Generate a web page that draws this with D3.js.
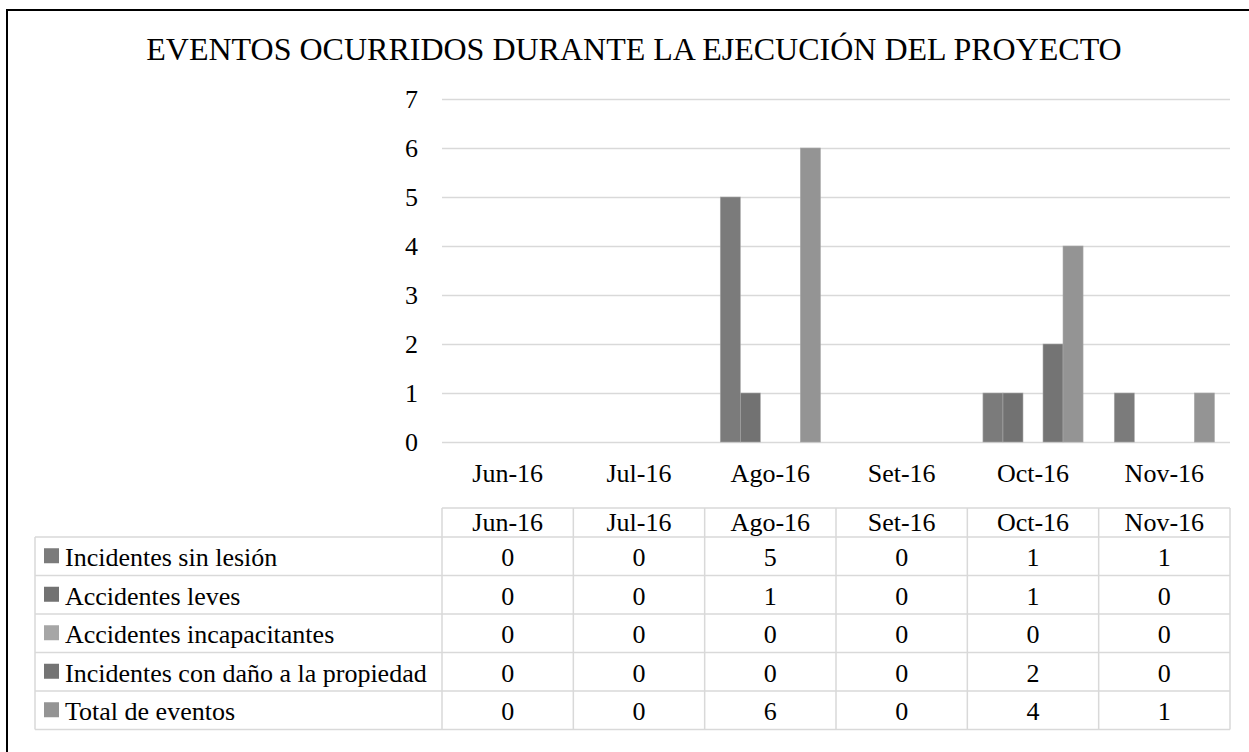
<!DOCTYPE html>
<html>
<head>
<meta charset="utf-8">
<script src="https://cdn.jsdelivr.net/npm/d3@7"></script>
<style>
  html, body { margin: 0; padding: 0; background: #fff; }
  svg { display: block; }
  text { font-family: "Liberation Serif", "Times New Roman", serif; fill: #000; }
</style>
</head>
<body>
<script>
// Chart data
const title = "EVENTOS OCURRIDOS DURANTE LA EJECUCIÓN DEL PROYECTO";
const months = ["Jun-16", "Jul-16", "Ago-16", "Set-16", "Oct-16", "Nov-16"];
const seriesNames = [
  "Incidentes sin lesión",
  "Accidentes leves",
  "Accidentes incapacitantes",
  "Incidentes con daño a la propiedad",
  "Total de eventos"
];
const incidentesSinLesion = [0, 0, 5, 0, 1, 1];
const accidentesLeves = [0, 0, 1, 0, 1, 0];
const accidentesIncapacitantes = [0, 0, 0, 0, 0, 0];
const incidentesDanoPropiedad = [0, 0, 0, 0, 2, 0];
const totalEventos = [0, 0, 6, 0, 4, 1];
const yTicks = [0, 1, 2, 3, 4, 5, 6, 7];
const seriesColors = ["#7b7b7b", "#727272", "#a6a6a6", "#747474", "#949494"];

const seriesValues = [incidentesSinLesion, accidentesLeves, accidentesIncapacitantes, incidentesDanoPropiedad, totalEventos];

const W = 1249, H = 752;
const FS = "26px";
const svg = d3.select("body").append("svg").attr("width", W).attr("height", H);

// frame (left/top edges of the outer border)
svg.append("rect").attr("x", 7).attr("y", 10).attr("width", W + 20).attr("height", H + 20)
  .attr("fill", "#fff").attr("stroke", "#000").attr("stroke-width", 2);

svg.append("text").attr("x", 634).attr("y", 60).attr("text-anchor", "middle")
  .style("font-size", "32px").text(title);

const plotLeft = 442, plotRight = 1230, plotTop = 99, plotBottom = 442;

const x = d3.scaleBand().domain(months).range([plotLeft, plotRight]).paddingInner(0).paddingOuter(0);
const y = d3.scaleLinear().domain([0, 7]).range([plotBottom, plotTop]);
const xs = d3.scaleBand().domain(d3.range(seriesNames.length)).range([0, x.bandwidth()]).paddingOuter(0.78).paddingInner(0);

// gridlines and value axis
const yAxis = d3.axisLeft(y).tickValues(yTicks).tickSize(-(plotRight - plotLeft)).tickPadding(24).tickFormat(d3.format("d"));
const gy = svg.append("g").attr("transform", `translate(${plotLeft},0)`).call(yAxis);
gy.select(".domain").remove();
gy.selectAll(".tick line").attr("stroke", "#d9d9d9").attr("stroke-width", 1.3);
gy.selectAll(".tick text").style("font-size", FS).style("font-family", "Liberation Serif, serif")
  .attr("fill", "#000").attr("dy", "0.34em");

// bars
const groups = svg.append("g").selectAll("g").data(months).join("g")
  .attr("transform", d => `translate(${x(d)},0)`);
groups.selectAll("rect")
  .data((m, i) => seriesValues.map((vals, s) => ({ s, v: vals[i] })).filter(d => d.v > 0))
  .join("rect")
  .attr("x", d => xs(d.s))
  .attr("width", xs.bandwidth())
  .attr("y", d => y(d.v))
  .attr("height", d => y(0) - y(d.v))
  .attr("fill", d => seriesColors[d.s])
  .attr("stroke", "#a8a8a8")
  .attr("stroke-width", 0.6);

// category axis labels
const xAxis = d3.axisBottom(x).tickSize(0).tickPadding(0);
const gx = svg.append("g").attr("transform", `translate(0,${plotBottom})`).call(xAxis);
gx.select(".domain").remove();
gx.selectAll(".tick text").style("font-size", FS).style("font-family", "Liberation Serif, serif")
  .attr("fill", "#000").attr("dy", null).attr("y", 40);

// data table
const tableTop = 508, headerH = 29, rowH = 38.5, tableLeft = 35;
const grid = svg.append("g").attr("stroke", "#d9d9d9").attr("stroke-width", 1.5).attr("fill", "none");
const tableBottom = tableTop + headerH + rowH * seriesNames.length;
grid.append("line").attr("x1", plotLeft).attr("x2", plotRight).attr("y1", tableTop).attr("y2", tableTop);
d3.range(seriesNames.length + 1).forEach(r => {
  const yy = tableTop + headerH + r * rowH;
  grid.append("line").attr("x1", tableLeft).attr("x2", plotRight).attr("y1", yy).attr("y2", yy);
});
months.forEach(m => {
  grid.append("line").attr("x1", x(m)).attr("x2", x(m)).attr("y1", tableTop).attr("y2", tableBottom);
});
grid.append("line").attr("x1", plotRight).attr("x2", plotRight).attr("y1", tableTop).attr("y2", tableBottom);
grid.append("line").attr("x1", tableLeft).attr("x2", tableLeft).attr("y1", tableTop + headerH).attr("y2", tableBottom);

// header labels
svg.append("g").selectAll("text").data(months).join("text")
  .attr("x", d => x(d) + x.bandwidth() / 2)
  .attr("y", tableTop + 23)
  .attr("text-anchor", "middle").style("font-size", FS).text(d => d);

// rows: legend key, series name, values
seriesNames.forEach((name, s) => {
  const cy = tableTop + headerH + s * rowH + rowH / 2;
  svg.append("rect").attr("x", 44).attr("y", cy - 8).attr("width", 15).attr("height", 15).attr("fill", seriesColors[s]);
  svg.append("text").attr("x", 65).attr("y", cy + 10).style("font-size", FS).text(name);
  svg.append("g").selectAll("text").data(seriesValues[s]).join("text")
    .attr("x", (v, i) => x(months[i]) + x.bandwidth() / 2)
    .attr("y", cy + 10)
    .attr("text-anchor", "middle").style("font-size", FS).text(v => v);
});
</script>
</body>
</html>
